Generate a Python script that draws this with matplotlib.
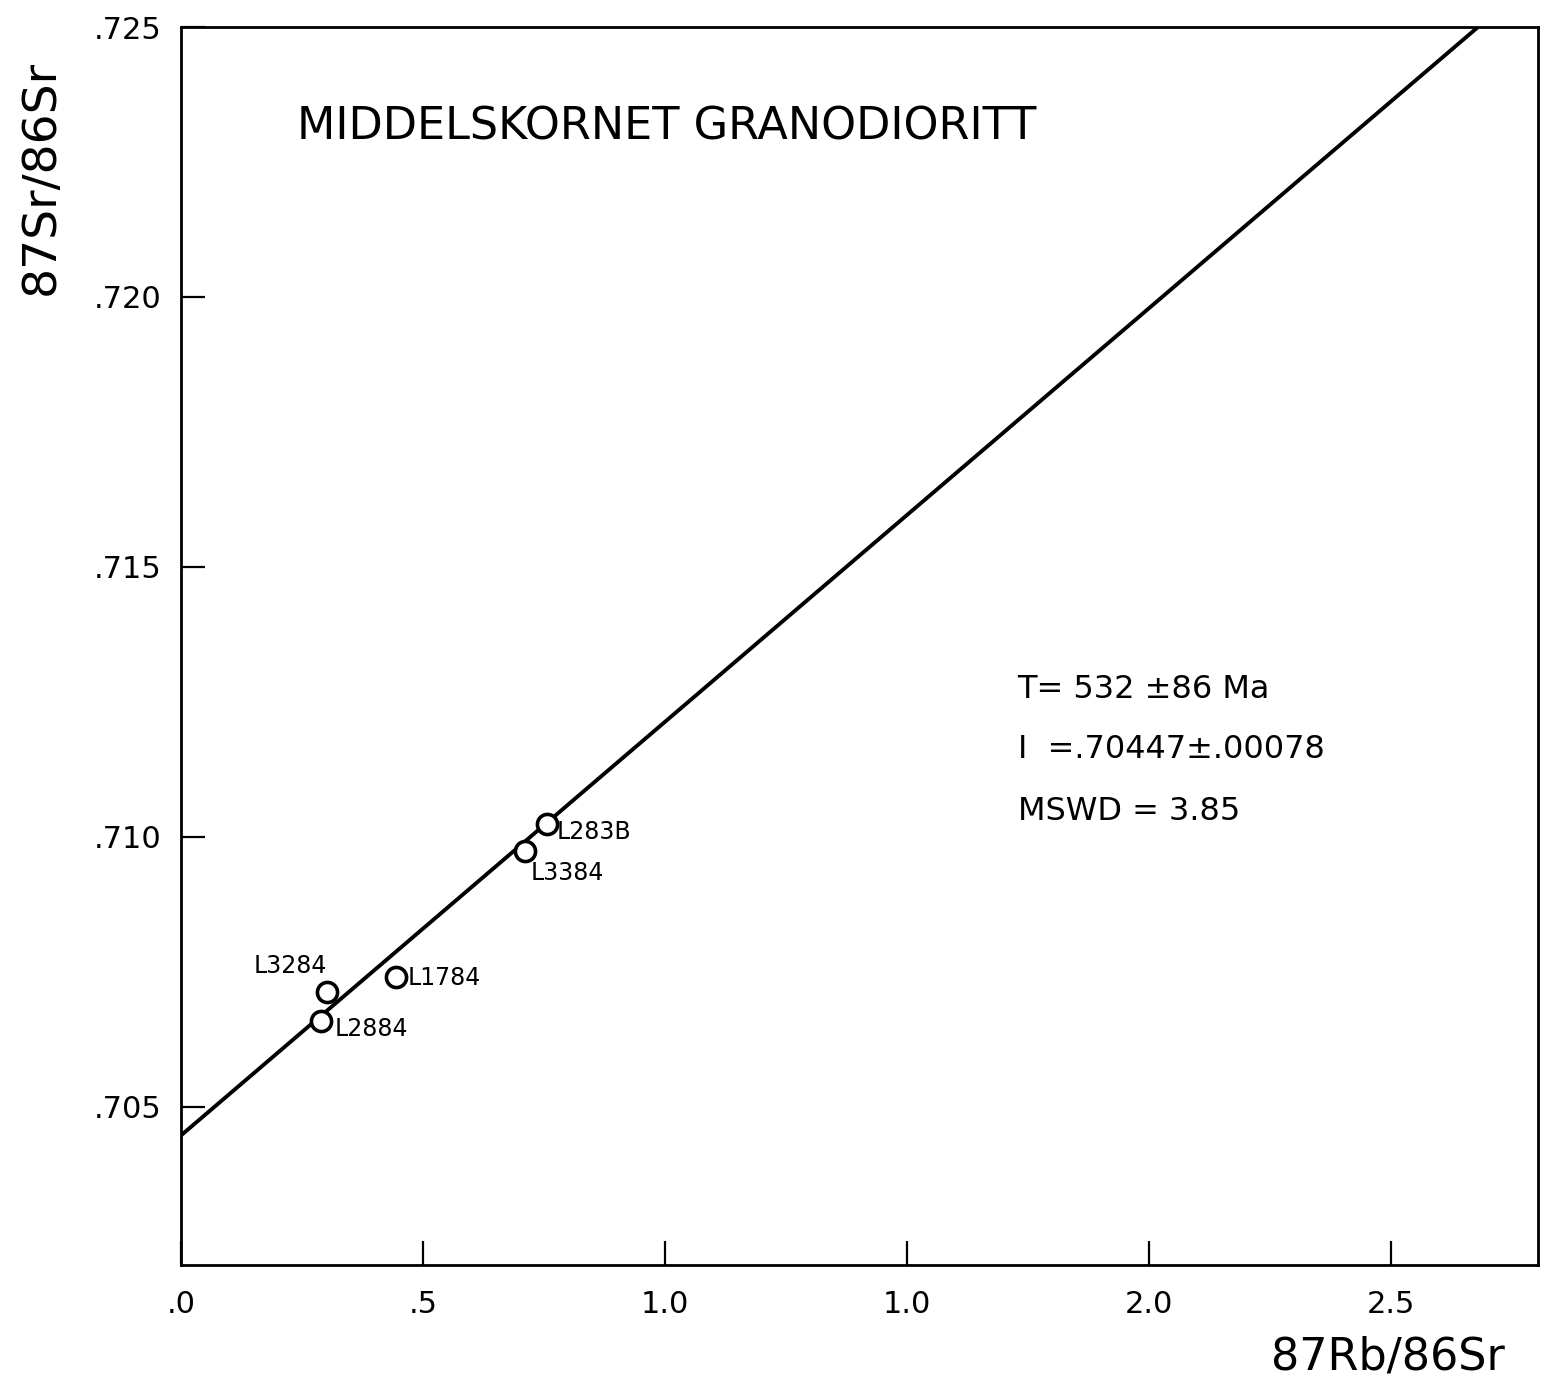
import numpy as np
import matplotlib
matplotlib.use('Agg')
import matplotlib.pyplot as plt

# sample data
samples = ['L283B', 'L3384', 'L1784', 'L3284', 'L2884']
rb_sr = [0.756, 0.711, 0.444, 0.302, 0.289]
sr_sr = [0.71024, 0.70974, 0.70741, 0.70713, 0.70659]

# regression line
intercept = 0.70447
slope = 0.00766

xticks = [0.0, 0.5, 1.0, 1.5, 2.0, 2.5]
xticklabels = ['.0', '.5', '1.0', '1.0', '2.0', '2.5']
yticks = [0.705, 0.710, 0.715, 0.720, 0.725]
yticklabels = ['.705', '.710', '.715', '.720', '.725']

label_offsets = {
    'L283B': (10, -8, 'left'),
    'L3384': (6, -22, 'left'),
    'L1784': (12, -1, 'left'),
    'L3284': (0, 26, 'right'),
    'L2884': (14, -8, 'left'),
}

plt.rcParams['font.family'] = 'DejaVu Sans'

fig = plt.figure(figsize=(15.46, 13.79), dpi=100)
ax = fig.add_axes([0.1171, 0.0827, 0.8777, 0.8977])

xs = np.array([0, 2.9])
ax.plot(xs, intercept + slope * xs, color='black', lw=2.8)
ax.plot(rb_sr, sr_sr, 'o', mfc='white', mec='black', ms=14.5, mew=2.6)

for name, x, y in zip(samples, rb_sr, sr_sr):
    dx, dy, ha = label_offsets[name]
    ax.annotate(name, (x, y), xytext=(dx, dy), textcoords='offset pixels',
                ha=ha, va='center', fontsize=17)

ax.set_xlim(0, 2.804)
ax.set_ylim(0.70207, 0.725)
ax.set_xticks(xticks)
ax.set_xticklabels(xticklabels)
ax.set_yticks(yticks)
ax.set_yticklabels(yticklabels)
ax.tick_params(direction='in', length=17, width=1.6, labelsize=22, pad=14)
ax.tick_params(axis='x', pad=18)
for s in ax.spines.values():
    s.set_linewidth(2)

ax.text(0.0854, 0.919, 'MIDDELSKORNET GRANODIORITT', transform=ax.transAxes,
        fontsize=32, va='center', ha='left')

ax.text(0.6165, 0.465, 'T= 532 \u00b186 Ma', transform=ax.transAxes, fontsize=23, va='center')
ax.text(0.6165, 0.416, 'I  =.70447\u00b1.00078', transform=ax.transAxes, fontsize=23, va='center')
ax.text(0.6165, 0.366, 'MSWD = 3.85', transform=ax.transAxes, fontsize=23, va='center')

fig.text(0.027, 0.871, '87Sr/86Sr', rotation=90, fontsize=34, ha='center', va='center')
fig.text(0.9735, 0.016, '87Rb/86Sr', fontsize=32, ha='right', va='center')

fig.savefig('out.png', dpi=100)
